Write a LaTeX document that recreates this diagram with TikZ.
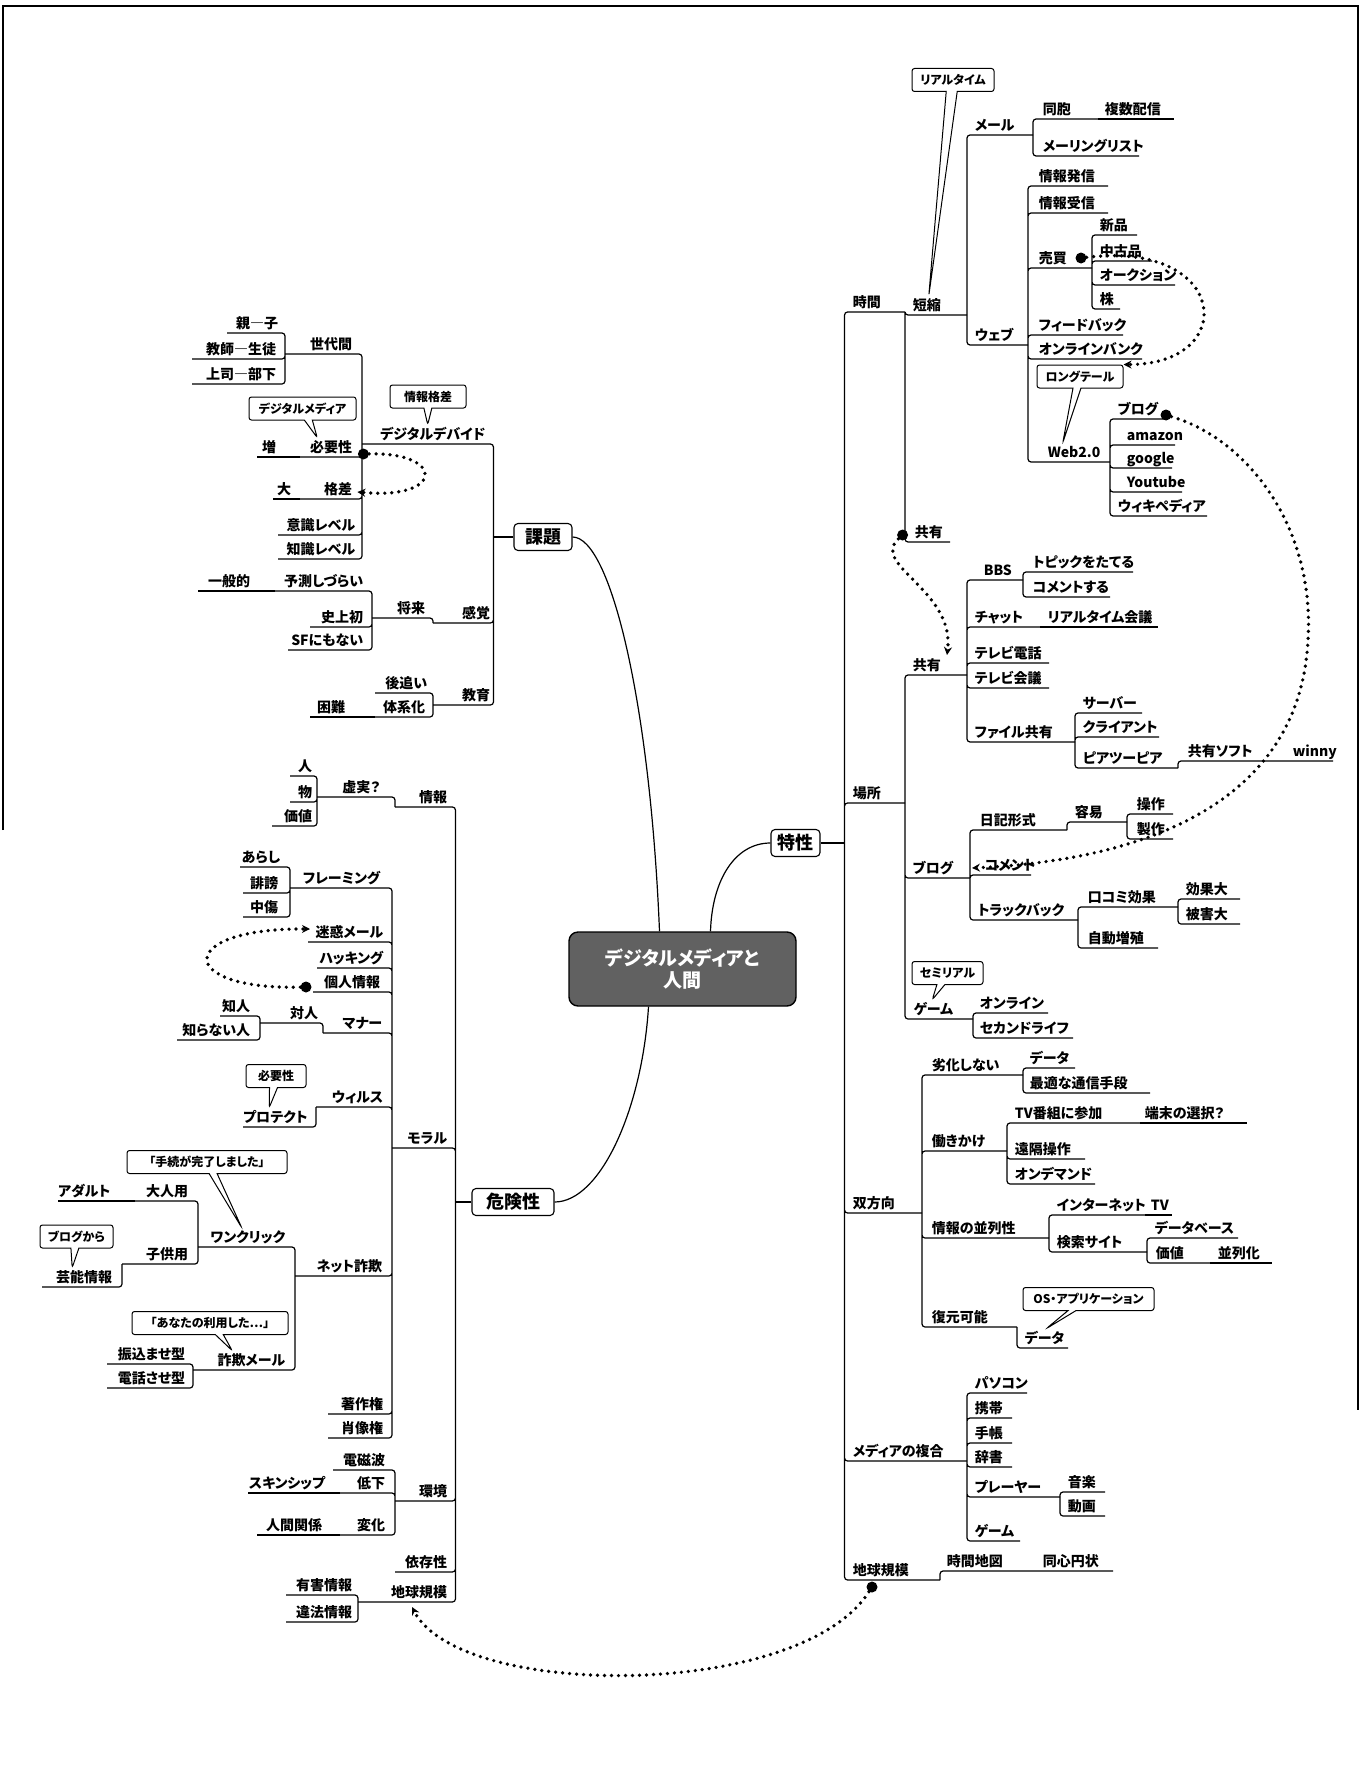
\documentclass[tikz,border=0pt]{standalone}
\usepackage{fontspec}
\setmainfont{Noto Sans CJK JP}[RawFeature=+palt]
\usetikzlibrary{arrows.meta,shapes.callouts}

\newcommand{\leaffont}{\fontsize{14}{16}\selectfont\bfseries}
\newcommand{\notefont}{\fontsize{12}{14}\selectfont\bfseries}
\newcommand{\hubfont}{\fontsize{18}{20}\selectfont\bfseries}

\tikzset{
  ln/.style={line width=1.2pt, rounded corners=3pt},
  leaf/.style={inner xsep=0pt, inner ysep=4pt, text height=11pt, text depth=0pt, font=\leaffont},
  rt/.style={leaf, anchor=south east, text width=#1pt, align=left},
  lt/.style={leaf, anchor=south west, text width=#1pt, align=right},
  hub/.style={draw, line width=1.1pt, rounded corners=4pt, inner sep=3pt, minimum height=27pt, font=\hubfont},
  core/.style={draw, line width=1.4pt, rounded corners=9pt, fill=black!62, text=white,
    font=\fontsize{19}{22}\selectfont\bfseries, align=center, minimum width=227pt, minimum height=74pt},
  note/.style={rectangle callout, draw, line width=1pt, rounded corners=2.5pt, font=\notefont,
    inner xsep=3pt, inner ysep=2pt, minimum height=23pt, callout pointer width=8pt},
  spot/.style={circle, fill, inner sep=0pt, minimum size=11pt},
  link/.style={line width=3.7pt, dash pattern=on 0pt off 7pt, line cap=round,
    -{Stealth[length=8pt,width=8pt]}},
}

\begin{document}
\begin{tikzpicture}[x=1pt, y=-1pt]
\useasboundingbox (0,0) rectangle (1361,1766);
\draw[line width=1.2pt] (3,830) -- (3,6) -- (1358,6) -- (1358,1410);

% centre and main branches
\node[core] (root) at (682.5,969) {デジタルメディアと\\人間};
\node[hub, minimum width=58pt] (kadai) at (543,537) {課題};
\node[hub, minimum width=49pt] (tokusei) at (795.5,843) {特性};
\node[hub, minimum width=82pt] (kiken) at (513,1202) {危険性};

\draw[ln] (kadai.east) .. controls (610,537) and (650,700) .. ([xshift=-23pt]root.north);
\draw[ln] (tokusei.west) .. controls (735,843) and (712,880) .. ([xshift=28pt]root.north);
\draw[ln] (kiken.east) .. controls (600,1202) and (642,1110) .. ([xshift=-34pt]root.south);

\coordinate (tspine) at ([xshift=24pt]tokusei.east);
\coordinate (kspine) at ([xshift=-20pt]kadai.west);
\coordinate (rspine) at ([xshift=-16pt]kiken.west);

% right side
\node[rt=52] (jikan) at (905,312) {時間};
\node[rt=52] (basho) at (905,803) {場所};
\node[rt=69] (sohoko) at (922,1213) {双方向};
\node[rt=114] (fukugo) at (967,1461) {メディアの複合};
\node[rt=87] (chikyuR) at (940,1580) {地球規模};

\node[rt=54] (tansh) at (967,315) {短縮};
\node[rt=35] (kyoyuA) at (950,542) {共有};
\node[rt=58] (mail) at (1033,135) {メール};
\node[rt=55] (dohou) at (1098,119) {同胞};
\node[rt=69] (fukusu) at (1174,119) {複数配信};
\node[rt=96] (mlist) at (1139,156) {メーリングリスト};
\node[rt=53] (web) at (1028,345) {ウェブ};
\node[rt=69] (hasshin) at (1108,186) {情報発信};
\node[rt=69] (jushin) at (1108,213) {情報受信};
\node[rt=53] (baibai) at (1092,268) {売買};
\node[rt=37] (shinpin) at (1137,235) {新品};
\node[rt=52] (chuko) at (1152,261) {中古品};
\node[rt=75] (auction) at (1175,285) {オークション};
\node[rt=20] (kabu) at (1120,309) {株};
\node[rt=84] (feedback) at (1123,335) {フィードバック};
\node[rt=103] (bank) at (1142,359) {オンラインバンク};
\node[rt=62] (web2) at (1110,462) {Web2.0};
\node[rt=47] (blogW) at (1165,419) {ブログ};
\node[rt=48] (amazon) at (1175,445) {amazon};
\node[rt=45] (google) at (1172,468) {google};
\node[rt=55] (youtube) at (1182,492) {Youtube};
\node[rt=89] (wiki) at (1207,516) {ウィキペディア};

\node[rt=54] (kyoyuB) at (967,675) {共有};
\node[rt=39] (bbs) at (1023,580) {BBS};
\node[rt=100] (topic) at (1133,572) {トピックをたてる};
\node[rt=77] (comment) at (1110,597) {コメントする};
\node[rt=65] (chat) at (1040,627) {チャット};
\node[rt=110] (rtkaigi) at (1158,627) {リアルタイム会議};
\node[rt=74] (tvphone) at (1049,663) {テレビ電話};
\node[rt=74] (tvconf) at (1049,688) {テレビ会議};
\node[rt=100] (file) at (1075,742) {ファイル共有};
\node[rt=59] (server) at (1142,713) {サーバー};
\node[rt=76] (client) at (1159,737) {クライアント};
\node[rt=95] (p2p) at (1178,768) {ピアツーピア};
\node[rt=102] (soft) at (1290,761) {共有ソフト};
\node[rt=40] (winny) at (1333,761) {winny};
\node[rt=57] (blogB) at (970,878) {ブログ};
\node[rt=87] (nikki) at (1067,830) {日記形式};
\node[rt=52] (yoi) at (1127,822) {容易};
\node[rt=36] (sosa) at (1173,814) {操作};
\node[rt=36] (seisaku) at (1173,839) {製作};
\node[rt=46] (commentB) at (1031,875) {コメント};
\node[rt=100] (track) at (1078,920) {トラックバック};
\node[rt=90] (kuchi) at (1178,907) {口コミ効果};
\node[rt=54] (kokadai) at (1240,899) {効果大};
\node[rt=54] (higai) at (1240,924) {被害大};
\node[rt=70] (zoshoku) at (1158,948) {自動増殖};
\node[rt=59] (game) at (973,1019) {ゲーム};
\node[rt=68] (online) at (1048,1013) {オンライン};
\node[rt=93] (second) at (1073,1038) {セカンドライフ};

\node[rt=91] (rekka) at (1023,1075) {劣化しない};
\node[rt=45] (data1) at (1075,1068) {データ};
\node[rt=120] (saiteki) at (1150,1093) {最適な通信手段};
\node[rt=75] (hataraki) at (1007,1151) {働きかけ};
\node[rt=125] (tvsanka) at (1140,1123) {TV番組に参加};
\node[rt=102] (tanmatsu) at (1247,1123) {端末の選択？};
\node[rt=70] (enkaku) at (1085,1159) {遠隔操作};
\node[rt=80] (ondemand) at (1095,1184) {オンデマンド};
\node[rt=117] (heiretsu) at (1049,1238) {情報の並列性};
\node[rt=88] (inet) at (1145,1215) {インターネット};
\node[rt=21] (tv) at (1172,1215) {TV};
\node[rt=90] (kensaku) at (1147,1252) {検索サイト};
\node[rt=83] (dbase) at (1238,1238) {データベース};
\node[rt=54] (kachiR) at (1210,1263) {価値};
\node[rt=54] (heiretsuka) at (1272,1263) {並列化};
\node[rt=85] (fukugen) at (1017,1327) {復元可能};
\node[rt=43] (data2) at (1068,1348) {データ};

\node[rt=52] (pc) at (1027,1393) {パソコン};
\node[rt=37] (keitai) at (1012,1418) {携帯};
\node[rt=37] (techo) at (1012,1443) {手帳};
\node[rt=37] (jisho) at (1012,1467) {辞書};
\node[rt=85] (player) at (1060,1497) {プレーヤー};
\node[rt=37] (ongaku) at (1105,1492) {音楽};
\node[rt=37] (doga) at (1105,1516) {動画};
\node[rt=45] (gameM) at (1020,1541) {ゲーム};
\node[rt=88] (jikanchizu) at (1035,1571) {時間地図};
\node[rt=70] (doshin) at (1113,1571) {同心円状};

% left side
\node[lt=123] (divide) at (362,444) {デジタルデバイド};
\node[lt=57] (kankaku) at (433,623) {感覚};
\node[lt=57] (kyoiku) at (433,705) {教育};
\node[lt=67] (sedai) at (285,354) {世代間};
\node[lt=51] (oyako) at (227,333) {親―子};
\node[lt=84] (kyoshi) at (192,359) {教師―生徒};
\node[lt=84] (joshi) at (192,384) {上司―部下};
\node[lt=52] (hitsuyo) at (300,457) {必要性};
\node[lt=19] (zo) at (257,457) {増};
\node[lt=52] (kakusa) at (300,499) {格差};
\node[lt=18] (dai) at (273,499) {大};
\node[lt=77] (ishiki) at (278,535) {意識レベル};
\node[lt=77] (chishiki) at (278,559) {知識レベル};
\node[lt=53] (shorai) at (372,618) {将来};
\node[lt=88] (yosoku) at (275,591) {予測しづらい};
\node[lt=52] (ippan) at (198,591) {一般的};
\node[lt=53] (shijo) at (310,627) {史上初};
\node[lt=75] (sf) at (288,650) {SFにもない};
\node[lt=52] (atooi) at (375,693) {後追い};
\node[lt=50] (taikei) at (375,717) {体系化};
\node[lt=35] (konnan) at (310,717) {困難};

\node[lt=52] (johoL) at (395,807) {情報};
\node[lt=63] (kyojitsu) at (317,797) {虚実？};
\node[lt=22] (hito) at (290,776) {人};
\node[lt=22] (mono) at (290,802) {物};
\node[lt=40] (kachiL) at (272,826) {価値};
\node[lt=55] (moral) at (392,1148) {モラル};
\node[lt=90] (flaming) at (290,888) {フレーミング};
\node[lt=40] (arashi) at (240,867) {あらし};
\node[lt=35] (hibo) at (243,893) {誹謗};
\node[lt=35] (chusho) at (243,917) {中傷};
\node[lt=75] (meiwaku) at (308,942) {迷惑メール};
\node[lt=66] (hacking) at (317,968) {ハッキング};
\node[lt=67] (kojin) at (313,992) {個人情報};
\node[lt=59] (manner) at (323,1033) {マナー};
\node[lt=58] (taijin) at (260,1023) {対人};
\node[lt=30] (chijin) at (220,1016) {知人};
\node[lt=73] (shiranai) at (177,1040) {知らない人};
\node[lt=67] (virus) at (316,1107) {ウィルス};
\node[lt=60] (protect) at (243,1127) {プロテクト};
\node[lt=87] (sagi) at (295,1276) {ネット詐欺};
\node[lt=87] (oneclick) at (198,1247) {ワンクリック};
\node[lt=53] (otona) at (135,1201) {大人用};
\node[lt=52] (adult) at (58,1201) {アダルト};
\node[lt=66] (kodomo) at (122,1264) {子供用};
\node[lt=70] (geino) at (42,1287) {芸能情報};
\node[lt=92] (sagimail) at (193,1370) {詐欺メール};
\node[lt=78] (furikomi) at (107,1364) {振込ませ型};
\node[lt=78] (denwa) at (107,1388) {電話させ型};
\node[lt=55] (chosaku) at (328,1414) {著作権};
\node[lt=55] (shozo) at (328,1438) {肖像権};
\node[lt=52] (kankyo) at (395,1501) {環境};
\node[lt=52] (denji) at (333,1470) {電磁波};
\node[lt=45] (teika) at (340,1493) {低下};
\node[lt=77] (skin) at (248,1493) {スキンシップ};
\node[lt=45] (henka) at (340,1535) {変化};
\node[lt=65] (ningen) at (257,1535) {人間関係};
\node[lt=52] (izon) at (395,1572) {依存性};
\node[lt=89] (chikyuL) at (358,1602) {地球規模};
\node[lt=66] (yugai) at (286,1595) {有害情報};
\node[lt=66] (iho) at (286,1622) {違法情報};

% callouts
\node[note, minimum width=76pt, callout absolute pointer={([xshift=4pt]divide.north)}] (n1) at (428,396.5) {情報格差};
\node[note, minimum width=107pt, callout absolute pointer={([xshift=-9pt]hitsuyo.north)}] (n2) at (302.5,408.5) {デジタルメディア};
\node[note, minimum width=82pt, callout pointer width=11pt, callout absolute pointer={([xshift=-11pt]tansh.north)}] (n3) at (953,80) {リアルタイム};
\node[note, minimum width=86pt, callout absolute pointer={([xshift=-16pt]web2.north)}] (longtail) at (1080,376.5) {ロングテール};
\node[note, minimum width=71pt, callout absolute pointer={([xshift=-11pt]game.north)}] (n5) at (947.5,973) {セミリアル};
\node[note, minimum width=131pt, callout absolute pointer={(data2.north)}] (n6) at (1088.5,1299) {OS・アプリケーション};
\node[note, minimum width=60pt, callout absolute pointer={([xshift=-4pt]protect.north)}] (n7) at (276,1076) {必要性};
\node[note, minimum width=160pt, callout absolute pointer={(oneclick.north)}] (n8) at (207,1162) {「手続が完了しました」};
\node[note, minimum width=73pt, callout absolute pointer={([xshift=-5pt]geino.north)}] (n9) at (76.5,1236.5) {ブログから};
\node[note, minimum width=156pt, callout absolute pointer={([xshift=-7pt]sagimail.north)}] (n10) at (210,1323) {「あなたの利用した…」};

% branches, right
\draw[ln] (tokusei.east) -- (tspine);
\draw[ln] (tspine) |- (jikan.south east) (tspine) |- (basho.south east) (tspine) |- (sohoko.south east)
  (tspine) |- (fukugo.south east) (tspine) |- (chikyuR.south east);
\draw[ln] (jikan.south east) |- (tansh.south east) (jikan.south east) |- (kyoyuA.south east);
\draw[ln] (tansh.south east) |- (mail.south east) (tansh.south east) |- (web.south east);
\draw[ln] (mail.south east) |- (dohou.south east) (mail.south east) |- (mlist.south east);
\draw[ln] (dohou.south east) -- (fukusu.south east);
\draw[ln] (web.south east) |- (hasshin.south east) (web.south east) |- (jushin.south east)
  (web.south east) |- (baibai.south east) (web.south east) |- (feedback.south east)
  (web.south east) |- (bank.south east) (web.south east) |- (web2.south east);
\draw[ln] (baibai.south east) |- (shinpin.south east) (baibai.south east) |- (chuko.south east)
  (baibai.south east) |- (auction.south east) (baibai.south east) |- (kabu.south east);
\draw[ln] (web2.south east) |- (blogW.south east) (web2.south east) |- (amazon.south east)
  (web2.south east) |- (google.south east) (web2.south east) |- (youtube.south east)
  (web2.south east) |- (wiki.south east);
\draw[ln] (basho.south east) |- (kyoyuB.south east) (basho.south east) |- (blogB.south east)
  (basho.south east) |- (game.south east);
\draw[ln] (kyoyuB.south east) |- (bbs.south east) (kyoyuB.south east) |- (chat.south east)
  (kyoyuB.south east) |- (tvphone.south east) (kyoyuB.south east) |- (tvconf.south east)
  (kyoyuB.south east) |- (file.south east);
\draw[ln] (bbs.south east) |- (topic.south east) (bbs.south east) |- (comment.south east);
\draw[ln] (chat.south east) -- (rtkaigi.south east);
\draw[ln] (file.south east) |- (server.south east) (file.south east) |- (client.south east)
  (file.south east) |- (p2p.south east);
\draw[ln] (p2p.south east) |- (soft.south east) -- (winny.south east);
\draw[ln] (blogB.south east) |- (nikki.south east) (blogB.south east) |- (commentB.south east)
  (blogB.south east) |- (track.south east);
\draw[ln] (nikki.south east) |- (yoi.south east);
\draw[ln] (yoi.south east) |- (sosa.south east) (yoi.south east) |- (seisaku.south east);
\draw[ln] (track.south east) |- (kuchi.south east) (track.south east) |- (zoshoku.south east);
\draw[ln] (kuchi.south east) |- (kokadai.south east) (kuchi.south east) |- (higai.south east);
\draw[ln] (game.south east) |- (online.south east) (game.south east) |- (second.south east);
\draw[ln] (sohoko.south east) |- (rekka.south east) (sohoko.south east) |- (hataraki.south east)
  (sohoko.south east) |- (heiretsu.south east) (sohoko.south east) |- (fukugen.south east);
\draw[ln] (rekka.south east) |- (data1.south east) (rekka.south east) |- (saiteki.south east);
\draw[ln] (hataraki.south east) |- (tvsanka.south east) (hataraki.south east) |- (enkaku.south east)
  (hataraki.south east) |- (ondemand.south east);
\draw[ln] (tvsanka.south east) -- (tanmatsu.south east);
\draw[ln] (heiretsu.south east) |- (inet.south east) (heiretsu.south east) |- (kensaku.south east);
\draw[ln] (inet.south east) -- (tv.south east);
\draw[ln] (kensaku.south east) |- (dbase.south east) (kensaku.south east) |- (kachiR.south east);
\draw[ln] (kachiR.south east) -- (heiretsuka.south east);
\draw[ln] (fukugen.south east) |- (data2.south east);
\draw[ln] (fukugo.south east) |- (pc.south east) (fukugo.south east) |- (keitai.south east)
  (fukugo.south east) |- (techo.south east) (fukugo.south east) |- (jisho.south east)
  (fukugo.south east) |- (player.south east) (fukugo.south east) |- (gameM.south east);
\draw[ln] (player.south east) |- (ongaku.south east) (player.south east) |- (doga.south east);
\draw[ln] (chikyuR.south east) |- (jikanchizu.south east) -- (doshin.south east);

% branches, left
\draw[ln] (kadai.west) -- (kspine);
\draw[ln] (kspine) |- (divide.south west) (kspine) |- (kankaku.south west) (kspine) |- (kyoiku.south west);
\draw[ln] (divide.south west) |- (sedai.south west) (divide.south west) |- (hitsuyo.south west)
  (divide.south west) |- (kakusa.south west) (divide.south west) |- (ishiki.south west)
  (divide.south west) |- (chishiki.south west);
\draw[ln] (sedai.south west) |- (oyako.south west) (sedai.south west) |- (kyoshi.south west)
  (sedai.south west) |- (joshi.south west);
\draw[ln] (hitsuyo.south west) -- (zo.south west);
\draw[ln] (kakusa.south west) -- (dai.south west);
\draw[ln] (kankaku.south west) |- (shorai.south west);
\draw[ln] (shorai.south west) |- (yosoku.south west) (shorai.south west) |- (shijo.south west)
  (shorai.south west) |- (sf.south west);
\draw[ln] (yosoku.south west) -- (ippan.south west);
\draw[ln] (kyoiku.south west) |- (atooi.south west) (kyoiku.south west) |- (taikei.south west);
\draw[ln] (taikei.south west) -- (konnan.south west);

\draw[ln] (kiken.west) -- (rspine);
\draw[ln] (rspine) |- (johoL.south west) (rspine) |- (moral.south west) (rspine) |- (kankyo.south west)
  (rspine) |- (izon.south west) (rspine) |- (chikyuL.south west);
\draw[ln] (johoL.south west) |- (kyojitsu.south west);
\draw[ln] (kyojitsu.south west) |- (hito.south west) (kyojitsu.south west) |- (mono.south west)
  (kyojitsu.south west) |- (kachiL.south west);
\draw[ln] (moral.south west) |- (flaming.south west) (moral.south west) |- (meiwaku.south west)
  (moral.south west) |- (hacking.south west) (moral.south west) |- (kojin.south west)
  (moral.south west) |- (manner.south west) (moral.south west) |- (virus.south west)
  (moral.south west) |- (sagi.south west) (moral.south west) |- (chosaku.south west)
  (moral.south west) |- (shozo.south west);
\draw[ln] (flaming.south west) |- (arashi.south west) (flaming.south west) |- (hibo.south west)
  (flaming.south west) |- (chusho.south west);
\draw[ln] (manner.south west) |- (taijin.south west);
\draw[ln] (taijin.south west) |- (chijin.south west) (taijin.south west) |- (shiranai.south west);
\draw[ln] (virus.south west) |- (protect.south west);
\draw[ln] (sagi.south west) |- (oneclick.south west) (sagi.south west) |- (sagimail.south west);
\draw[ln] (oneclick.south west) |- (otona.south west) (oneclick.south west) |- (kodomo.south west);
\draw[ln] (otona.south west) -- (adult.south west);
\draw[ln] (kodomo.south west) |- (geino.south west);
\draw[ln] (sagimail.south west) |- (furikomi.south west) (sagimail.south west) |- (denwa.south west);
\draw[ln] (kankyo.south west) |- (denji.south west) (kankyo.south west) |- (teika.south west)
  (kankyo.south west) |- (henka.south west);
\draw[ln] (teika.south west) -- (skin.south west);
\draw[ln] (henka.south west) -- (ningen.south west);
\draw[ln] (chikyuL.south west) |- (yugai.south west) (chikyuL.south west) |- (iho.south west);

% dotted links
\node[spot] (d1) at ([xshift=11pt,yshift=3pt]hitsuyo.south east) {};
\node[spot] (d2) at ([xshift=-7pt,yshift=5pt]kojin.south west) {};
\node[spot] (d3) at ([xshift=-11pt,yshift=10pt]baibai.south east) {};
\node[spot] (d4) at ([xshift=1pt,yshift=4pt]blogW.south east) {};
\node[spot] (d5) at ([xshift=-12pt,yshift=7pt]kyoyuA.south west) {};
\node[spot] (d6) at ([xshift=-68pt,yshift=-7pt]chikyuR.south east) {};

\draw[link] (d1) .. controls (445,452) and (445,500) .. ([xshift=5pt,yshift=7pt]kakusa.south east);
\draw[link] (d2) .. controls (175,990) and (175,928) .. ([xshift=2pt,yshift=13pt]meiwaku.south west);
\draw[link] (d3) .. controls (1230,240) and (1240,365) .. (longtail.north east);
\draw[link] (d4) .. controls (1250,440) and (1315,530) .. (1308,640)
  .. controls (1300,800) and (1150,860) .. ([xshift=2pt,yshift=10pt]blogB.south east);
\draw[link] (d5) .. controls (870,565) and (955,590) .. ([xshift=-20pt,yshift=20pt]kyoyuB.south east);
\draw[link] (d6) .. controls (800,1700) and (460,1700) .. ([xshift=54pt,yshift=-5pt]chikyuL.south west);
\end{tikzpicture}
\end{document}
